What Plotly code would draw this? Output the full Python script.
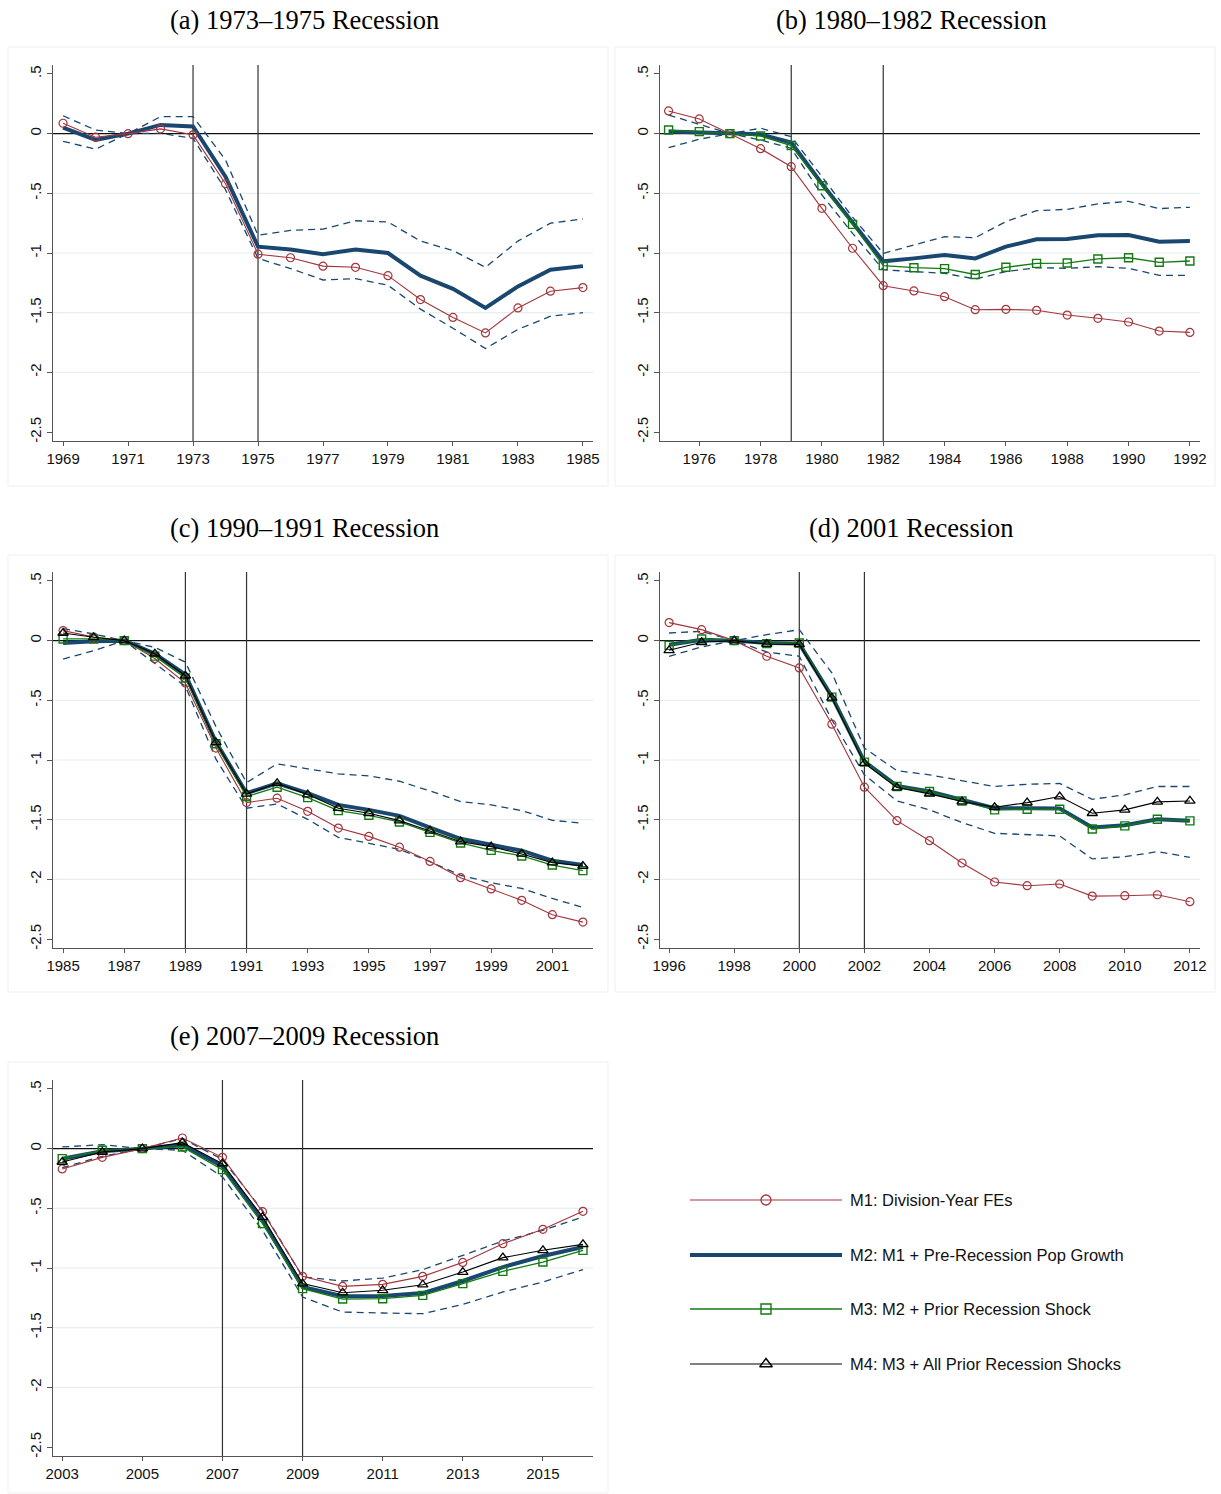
import plotly.graph_objects as go

# ---------------- DATA ----------------
# Panel (a) 1973-1975
YEARS_A = list(range(1969, 1986))
M1_A = [0.087, -0.03, 0.0, 0.04, -0.01, -0.42, -1.01, -1.04, -1.11, -1.12, -1.19, -1.39, -1.54, -1.67, -1.46, -1.32, -1.29]
M2_A = [0.05, -0.053, 0.0, 0.073, 0.06, -0.36, -0.947, -0.97, -1.01, -0.97, -1.0, -1.19, -1.30, -1.46, -1.28, -1.14, -1.11]
HI_A = [0.15, 0.03, 0.0, 0.142, 0.142, -0.22, -0.852, -0.81, -0.80, -0.73, -0.74, -0.90, -0.98, -1.12, -0.90, -0.75, -0.715]
LO_A = [-0.064, -0.13, 0.0, 0.003, -0.04, -0.47, -1.045, -1.13, -1.226, -1.215, -1.27, -1.47, -1.63, -1.80, -1.64, -1.53, -1.50]
REC_A = [1973, 1975]
XTICKS_A = list(range(1969, 1986, 2))

# Panel (b) 1980-1982
YEARS_B = list(range(1975, 1993))
M1_B = [0.19, 0.123, 0.0, -0.126, -0.277, -0.626, -0.96, -1.274, -1.318, -1.366, -1.475, -1.472, -1.48, -1.52, -1.547, -1.578, -1.654, -1.665]
M2_B = [0.017, 0.011, 0.0, -0.006, -0.075, -0.42, -0.745, -1.07, -1.045, -1.017, -1.045, -0.947, -0.885, -0.883, -0.852, -0.849, -0.905, -0.90]
M3_B = [0.03, 0.017, 0.0, -0.02, -0.10, -0.436, -0.76, -1.106, -1.123, -1.131, -1.18, -1.12, -1.087, -1.084, -1.05, -1.04, -1.078, -1.067]
HI_B = [0.156, 0.08, 0.0, 0.045, -0.025, -0.36, -0.70, -1.003, -0.933, -0.863, -0.872, -0.737, -0.645, -0.634, -0.589, -0.567, -0.628, -0.617]
LO_B = [-0.117, -0.047, 0.0, -0.053, -0.123, -0.514, -0.835, -1.14, -1.156, -1.17, -1.218, -1.156, -1.123, -1.128, -1.115, -1.128, -1.187, -1.187]
REC_B = [1979, 1982]
XTICKS_B = list(range(1976, 1993, 2))

# Panel (c) 1990-1991
YEARS_C = list(range(1985, 2003))
M1_C = [0.084, 0.03, 0.0, -0.15, -0.355, -0.90, -1.357, -1.32, -1.43, -1.57, -1.64, -1.73, -1.85, -1.986, -2.08, -2.176, -2.296, -2.358]
M2_C = [-0.02, -0.005, 0.0, -0.11, -0.285, -0.85, -1.278, -1.195, -1.278, -1.376, -1.418, -1.468, -1.566, -1.66, -1.71, -1.76, -1.843, -1.88]
M3_C = [0.014, 0.014, 0.0, -0.13, -0.313, -0.864, -1.306, -1.228, -1.315, -1.424, -1.463, -1.519, -1.606, -1.695, -1.757, -1.804, -1.88, -1.927]
M4_C = [0.064, 0.028, 0.0, -0.11, -0.294, -0.853, -1.284, -1.195, -1.29, -1.404, -1.446, -1.508, -1.594, -1.684, -1.726, -1.787, -1.86, -1.888]
HI_C = [0.10, 0.056, 0.0, -0.056, -0.18, -0.72, -1.19, -1.032, -1.074, -1.116, -1.133, -1.178, -1.259, -1.348, -1.376, -1.424, -1.505, -1.53]
LO_C = [-0.154, -0.084, 0.0, -0.193, -0.383, -0.993, -1.404, -1.368, -1.497, -1.648, -1.70, -1.748, -1.852, -1.966, -2.028, -2.076, -2.16, -2.235]
REC_C = [1989, 1991]
XTICKS_C = list(range(1985, 2002, 2))

# Panel (d) 2001
YEARS_D = list(range(1996, 2013))
M1_D = [0.151, 0.092, 0.0, -0.131, -0.229, -0.70, -1.228, -1.508, -1.676, -1.863, -2.022, -2.053, -2.039, -2.14, -2.137, -2.129, -2.187]
M2_D = [-0.034, 0.008, 0.0, -0.02, -0.025, -0.467, -1.013, -1.217, -1.264, -1.334, -1.404, -1.404, -1.407, -1.566, -1.547, -1.497, -1.508]
M3_D = [-0.04, 0.014, 0.0, -0.025, -0.02, -0.473, -1.018, -1.222, -1.264, -1.343, -1.418, -1.413, -1.413, -1.578, -1.552, -1.497, -1.51]
M4_D = [-0.081, -0.014, 0.0, -0.028, -0.031, -0.48, -1.027, -1.231, -1.284, -1.348, -1.396, -1.357, -1.306, -1.446, -1.418, -1.351, -1.343]
HI_D = [0.064, 0.078, 0.0, 0.05, 0.092, -0.27, -0.90, -1.09, -1.124, -1.175, -1.222, -1.203, -1.197, -1.329, -1.292, -1.222, -1.222]
LO_D = [-0.131, -0.053, 0.0, -0.095, -0.131, -0.663, -1.124, -1.343, -1.418, -1.524, -1.614, -1.622, -1.636, -1.829, -1.81, -1.768, -1.815]
REC_D = [2000, 2002]
XTICKS_D = list(range(1996, 2013, 2))

# Panel (e) 2007-2009
YEARS_E = list(range(2003, 2017))
M1_E = [-0.17, -0.073, 0.0, 0.089, -0.073, -0.528, -1.07, -1.154, -1.137, -1.07, -0.953, -0.796, -0.676, -0.525]
M2_E = [-0.084, -0.022, 0.0, 0.03, -0.148, -0.595, -1.159, -1.237, -1.235, -1.21, -1.109, -0.992, -0.90, -0.824]
M3_E = [-0.084, -0.014, 0.0, 0.014, -0.176, -0.628, -1.173, -1.26, -1.257, -1.229, -1.131, -1.028, -0.95, -0.852]
M4_E = [-0.112, -0.028, 0.0, 0.05, -0.126, -0.573, -1.131, -1.207, -1.187, -1.14, -1.034, -0.913, -0.852, -0.802]
HI_E = [0.014, 0.034, 0.0, 0.084, -0.09, -0.517, -1.075, -1.109, -1.084, -1.014, -0.894, -0.774, -0.684, -0.573]
LO_E = [-0.16, -0.064, 0.0, -0.014, -0.237, -0.684, -1.243, -1.369, -1.377, -1.383, -1.304, -1.201, -1.117, -1.014]
REC_E = [2007, 2009]
XTICKS_E = list(range(2003, 2016, 2))

TITLES = ["(a) 1973–1975 Recession", "(b) 1980–1982 Recession", "(c) 1990–1991 Recession",
          "(d) 2001 Recession", "(e) 2007–2009 Recession"]
YTICKS = [0.5, 0, -0.5, -1, -1.5, -2, -2.5]
YTICK_TEXT = [".5", "0", "-.5", "-1", "-1.5", "-2", "-2.5"]
GRID_Y = [-0.5, -1, -1.5, -2]
LEGEND_LABELS = ["M1: Division-Year FEs", "M2: M1 + Pre-Recession Pop Growth",
                 "M3: M2 + Prior Recession Shock", "M4: M3 + All Prior Recession Shocks"]

# ---------------- STYLE / LAYOUT ----------------
W, H = 1221, 1494
RED = "#A3353C"
NAVY = "#1A476F"
GREEN = "#137A13"
BLACK = "#000000"
SANS = "Liberation Sans, Arial, Helvetica, sans-serif"
SERIF = "Liberation Serif, Times New Roman, serif"

panels = [
    dict(years=YEARS_A, m1=M1_A, m2=M2_A, m3=None, m4=None, hi=HI_A, lo=LO_A, rec=REC_A, xt=XTICKS_A,
         px=(53, 593), py=(65, 441), xr=(1968.69, 1985.31), box=(8, 47, 608, 486), tc=(304, 20)),
    dict(years=YEARS_B, m1=M1_B, m2=M2_B, m3=M3_B, m4=None, hi=HI_B, lo=LO_B, rec=REC_B, xt=XTICKS_B,
         px=(660, 1200), py=(65, 441), xr=(1974.72, 1992.33), box=(615, 47, 1215, 486), tc=(911, 20)),
    dict(years=YEARS_C, m1=M1_C, m2=M2_C, m3=M3_C, m4=M4_C, hi=HI_C, lo=LO_C, rec=REC_C, xt=XTICKS_C,
         px=(53, 593), py=(572, 948), xr=(1984.67, 2002.33), box=(8, 555, 608, 992), tc=(304, 528)),
    dict(years=YEARS_D, m1=M1_D, m2=M2_D, m3=M3_D, m4=M4_D, hi=HI_D, lo=LO_D, rec=REC_D, xt=XTICKS_D,
         px=(660, 1200), py=(572, 948), xr=(1995.72, 2012.31), box=(615, 555, 1215, 992), tc=(911, 528)),
    dict(years=YEARS_E, m1=M1_E, m2=M2_E, m3=M3_E, m4=M4_E, hi=HI_E, lo=LO_E, rec=REC_E, xt=XTICKS_E,
         px=(53, 593), py=(1080, 1456), xr=(2002.77, 2016.25), box=(8, 1062, 608, 1493), tc=(304, 1036)),
]

fig = go.Figure()
shapes = []
annotations = []
layout = {}

for i, p in enumerate(panels, start=1):
    xa = "x" if i == 1 else f"x{i}"
    ya = "y" if i == 1 else f"y{i}"
    xkey = "xaxis" if i == 1 else f"xaxis{i}"
    ykey = "yaxis" if i == 1 else f"yaxis{i}"
    layout[xkey] = dict(
        domain=[p["px"][0] / W, p["px"][1] / W], range=list(p["xr"]), anchor=ya, automargin=False,
        tickvals=p["xt"], ticks="outside", ticklen=4, tickcolor="#555", tickwidth=1,
        showline=True, linecolor="#555", linewidth=1.2, showgrid=False, zeroline=False,
        tickfont=dict(family=SANS, size=15, color="#111"), fixedrange=True,
    )
    layout[ykey] = dict(
        domain=[1 - p["py"][1] / H, 1 - p["py"][0] / H], range=[-2.575, 0.575], anchor=xa, automargin=False,
        tickvals=YTICKS, ticktext=YTICK_TEXT, tickangle=-90,
        ticks="outside", ticklen=5, tickcolor="#555", tickwidth=1,
        showline=True, linecolor="#555", linewidth=1.2, showgrid=False, zeroline=False,
        tickfont=dict(family=SANS, size=15, color="#111"), fixedrange=True,
    )
    # panel frame
    bx0, by0, bx1, by1 = p["box"]
    shapes.append(dict(type="rect", xref="paper", yref="paper", x0=bx0 / W, x1=bx1 / W,
                       y0=1 - by1 / H, y1=1 - by0 / H, line=dict(color="#EFEFEF", width=1),
                       layer="below"))
    # faint gridlines
    for g in GRID_Y:
        shapes.append(dict(type="line", xref=f"{xa} domain", yref=ya, x0=0, x1=1, y0=g, y1=g,
                           line=dict(color="#E6EEF0", width=1.2), layer="below"))
    # zero line
    shapes.append(dict(type="line", xref=f"{xa} domain", yref=ya, x0=0, x1=1, y0=0, y1=0,
                       line=dict(color="#111", width=1.2), layer="below"))
    # recession lines
    for r in p["rec"]:
        shapes.append(dict(type="line", xref=xa, yref=f"{ya} domain", x0=r, x1=r, y0=0, y1=1,
                           line=dict(color="#333", width=1.2), layer="below"))
    # title
    annotations.append(dict(text=TITLES[i - 1], xref="paper", yref="paper",
                            x=p["tc"][0] / W, y=1 - p["tc"][1] / H, xanchor="center", yanchor="middle",
                            showarrow=False, font=dict(family=SERIF, size=26.5, color="#000")))

    yrs = p["years"]
    for ci in (p["hi"], p["lo"]):
        fig.add_trace(go.Scatter(x=yrs, y=ci, mode="lines", xaxis=xa, yaxis=ya, showlegend=False,
                                 line=dict(color=NAVY, width=1.3, dash="7px,5px"), hoverinfo="skip"))
    fig.add_trace(go.Scatter(x=yrs, y=p["m2"], mode="lines", xaxis=xa, yaxis=ya, showlegend=False,
                             line=dict(color=NAVY, width=4)))
    fig.add_trace(go.Scatter(x=yrs, y=p["m1"], mode="lines+markers", xaxis=xa, yaxis=ya, showlegend=False,
                             line=dict(color=RED, width=1.1),
                             marker=dict(symbol="circle-open", size=8, color=RED, line=dict(width=1.2))))
    if p["m3"] is not None:
        fig.add_trace(go.Scatter(x=yrs, y=p["m3"], mode="lines+markers", xaxis=xa, yaxis=ya, showlegend=False,
                                 line=dict(color=GREEN, width=1.3),
                                 marker=dict(symbol="square-open", size=8, color=GREEN, line=dict(width=1.4))))
    if p["m4"] is not None:
        fig.add_trace(go.Scatter(x=yrs, y=p["m4"], mode="lines+markers", xaxis=xa, yaxis=ya, showlegend=False,
                                 line=dict(color=BLACK, width=1.1),
                                 marker=dict(symbol="triangle-up-open", size=9, color=BLACK, line=dict(width=1.3))))

# ---------------- LEGEND (manual, pixel-space overlay axis) ----------------
layout["xaxis6"] = dict(domain=[0, 1], range=[0, W], visible=False, anchor="y6", fixedrange=True, automargin=False)
layout["yaxis6"] = dict(domain=[0, 1], range=[H, 0], visible=False, anchor="x6", fixedrange=True, automargin=False)
leg_rows = [1200, 1255, 1309, 1364]
leg_styles = [
    dict(line=dict(color=RED, width=1.1), marker=dict(symbol="circle-open", size=10, color=RED, line=dict(width=1.3))),
    dict(line=dict(color=NAVY, width=4), marker=None),
    dict(line=dict(color=GREEN, width=1.3), marker=dict(symbol="square-open", size=10, color=GREEN, line=dict(width=1.4))),
    dict(line=dict(color=BLACK, width=1.1), marker=dict(symbol="triangle-up-open", size=11, color=BLACK, line=dict(width=1.4))),
]
for row_y, st, lab in zip(leg_rows, leg_styles, LEGEND_LABELS):
    fig.add_trace(go.Scatter(x=[690, 842], y=[row_y, row_y], mode="lines", xaxis="x6", yaxis="y6",
                             showlegend=False, line=st["line"], hoverinfo="skip"))
    if st["marker"] is not None:
        fig.add_trace(go.Scatter(x=[766], y=[row_y], mode="markers", xaxis="x6", yaxis="y6",
                                 showlegend=False, marker=st["marker"], hoverinfo="skip"))
    annotations.append(dict(text=lab, xref="x6", yref="y6", x=848, y=row_y, xanchor="left", yanchor="middle",
                            showarrow=False, font=dict(family=SANS, size=16.5, color="#111")))

fig.update_layout(
    width=W, height=H, margin=dict(l=0, r=0, t=0, b=0),
    paper_bgcolor="white", plot_bgcolor="rgba(0,0,0,0)",
    showlegend=False, shapes=shapes, annotations=annotations, **layout,
)

fig.write_html("out.html", config={"displayModeBar": False},
               post_script="document.body.style.margin='0';")
